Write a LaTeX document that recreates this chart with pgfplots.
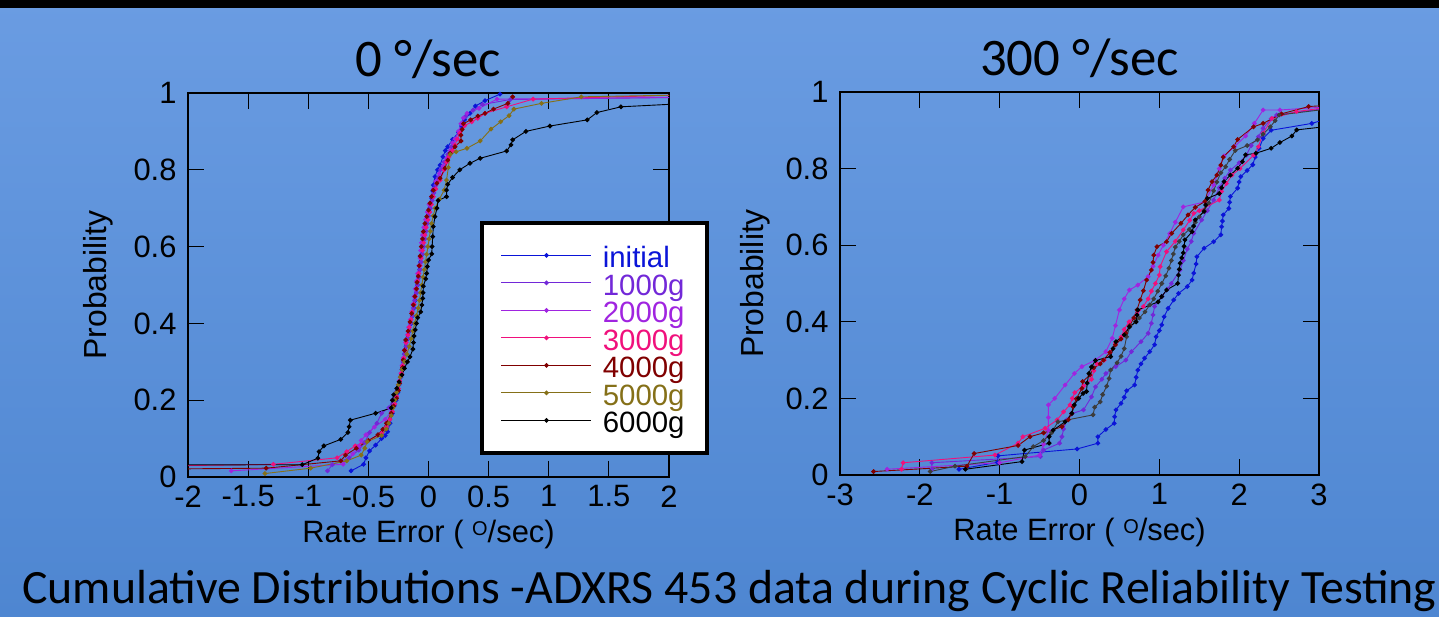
\documentclass[border=0pt]{standalone}
\usepackage{pgfplots}
\pgfplotsset{compat=1.18}
\usepackage{fontspec}
\setmainfont{Liberation Sans}
\newfontfamily\carlito{Carlito}
\definecolor{bgTop}{HTML}{6A9CE2}
\definecolor{bgBot}{HTML}{4E86D1}
\definecolor{cInit}{HTML}{0A14D8}
\definecolor{cKa}{HTML}{7228D8}
\definecolor{cKb}{HTML}{A024E0}
\definecolor{cKc}{HTML}{F0107C}
\definecolor{cKd}{HTML}{800000}
\definecolor{cKe}{HTML}{857018}
\definecolor{cKeg}{HTML}{3C3C3C}
\definecolor{cKf}{HTML}{000000}
\newcommand{\degsup}{\raisebox{7bp}{\fontsize{20}{20}\selectfont O}}
\pgfplotsset{
  cdfaxis/.style={
    scale only axis, anchor=south west,
    axis line style={black, line width=1.2bp},
    tick style={black, line width=1bp},
    major tick length=16bp,
    tick align=inside,
    ymin=0, ymax=1, ytick={0,0.2,0.4,0.6,0.8,1},
    ticklabel style={font=\fontsize{31}{31}\selectfont},
    xticklabel style={yshift=-5bp},
    yticklabel style={xshift=-8bp},
    /pgf/number format/assume math mode=true,
    xlabel style={font=\fontsize{31}{31}\selectfont},
    ylabel style={font=\fontsize{32}{32}\selectfont},
    every axis title/.style={at={(0.5,1.042)}, anchor=base, font=\carlito\fontsize{53}{53}\selectfont},
    clip=true,
    legend image code/.code={\draw[mark repeat=2,mark phase=2,##1] plot coordinates {(0bp,0bp) (45bp,0bp) (90bp,0bp)};},
  },
  ser/.style={line width=0.9bp, mark=*, mark size=1.9bp, color=#1},
}
\begin{document}
\begin{tikzpicture}[x=1bp,y=1bp]
\useasboundingbox (0,0) rectangle (1439,617);
\shade[top color=bgTop, bottom color=bgBot] (0,0) rectangle (1439,617);
\fill[black] (0,609) rectangle (1439,617);

\begin{axis}[cdfaxis, at={(188bp,140bp)}, width=481bp, height=384bp,
  xmin=-2, xmax=2, xtick={-2,-1.5,-1,-0.5,0,0.5,1,1.5,2},
  title={0 °/sec},
  xlabel={Rate Error ( \degsup/sec)},
  ylabel={Probability},
  xlabel style={at={(axis description cs:0.5,-0.151)}, anchor=center},
  ylabel style={at={(axis description cs:-0.187,0.5)}, anchor=center},
  legend cell align=left,
  legend style={at={(0.607,0.667)}, anchor=north west, draw=black, line width=4bp, fill=white,
    font=\fontsize{29.5}{29.5}\selectfont, inner xsep=19bp, inner ysep=15bp, row sep=-7.5bp, column sep=8bp,
    nodes={inner sep=3bp, text height=27bp, text depth=2bp}},
]
\addplot[ser=cInit] coordinates {(-0.644,0.016)(-0.54,0.033)(-0.52,0.05)(-0.49,0.068)(-0.44,0.083)(-0.39,0.10)(-0.36,0.108)(-0.34,0.118)(-0.32,0.14)(-0.30,0.166)(-0.285,0.185)(-0.27,0.2)(-0.255,0.22)(-0.245,0.24)(-0.23,0.26)(-0.22,0.28)(-0.21,0.30)(-0.2,0.32)(-0.185,0.34)(-0.17,0.36)(-0.158,0.38)(-0.145,0.40)(-0.133,0.42)(-0.12,0.44)(-0.11,0.46)(-0.1,0.48)(-0.09,0.50)(-0.08,0.52)(-0.072,0.54)(-0.065,0.56)(-0.055,0.58)(-0.045,0.60)(-0.035,0.62)(-0.025,0.64)(-0.015,0.66)(-0.005,0.68)(0.01,0.70)(0.027,0.726)(0.035,0.745)(0.04,0.76)(0.054,0.782)(0.075,0.80)(0.096,0.812)(0.12,0.834)(0.14,0.85)(0.16,0.86)(0.2,0.879)(0.25,0.897)(0.276,0.914)(0.30,0.93)(0.345,0.947)(0.39,0.966)(0.47,0.98)(0.595,0.997)};
\addlegendentry{\textcolor{cInit}{initial}}
\addplot[ser=cKa] coordinates {(-0.84,0.016)(-0.80,0.032)(-0.66,0.05)(-0.58,0.07)(-0.53,0.09)(-0.49,0.116)(-0.43,0.14)(-0.39,0.166)(-0.33,0.18)(-0.30,0.2)(-0.27,0.22)(-0.25,0.24)(-0.235,0.26)(-0.22,0.28)(-0.21,0.30)(-0.2,0.32)(-0.185,0.34)(-0.175,0.36)(-0.16,0.38)(-0.15,0.40)(-0.135,0.42)(-0.125,0.44)(-0.115,0.46)(-0.1,0.48)(-0.09,0.5)(-0.08,0.52)(-0.07,0.54)(-0.06,0.56)(-0.05,0.58)(-0.04,0.6)(-0.03,0.62)(-0.02,0.64)(-0.01,0.66)(0.0,0.68)(0.015,0.70)(0.03,0.72)(0.045,0.74)(0.06,0.76)(0.08,0.78)(0.1,0.8)(0.13,0.82)(0.16,0.84)(0.19,0.86)(0.22,0.88)(0.25,0.90)(0.28,0.92)(0.31,0.94)(0.37,0.955)(0.45,0.97)(0.68,0.983)(2.5,0.99)};
\addlegendentry{\textcolor{cKa}{1000g}}
\addplot[ser=cKb] coordinates {(-1.64,0.016)(-0.71,0.033)(-0.63,0.06)(-0.58,0.08)(-0.56,0.095)(-0.52,0.11)(-0.45,0.13)(-0.36,0.15)(-0.31,0.17)(-0.29,0.19)(-0.275,0.21)(-0.26,0.23)(-0.245,0.25)(-0.23,0.27)(-0.22,0.29)(-0.21,0.31)(-0.2,0.33)(-0.19,0.35)(-0.175,0.37)(-0.165,0.39)(-0.15,0.41)(-0.14,0.43)(-0.13,0.45)(-0.12,0.47)(-0.11,0.49)(-0.1,0.51)(-0.09,0.53)(-0.08,0.55)(-0.07,0.57)(-0.065,0.59)(-0.06,0.61)(-0.05,0.63)(-0.04,0.65)(-0.025,0.67)(-0.01,0.69)(0.005,0.71)(0.025,0.73)(0.04,0.75)(0.06,0.77)(0.09,0.79)(0.12,0.81)(0.15,0.83)(0.18,0.85)(0.2,0.87)(0.22,0.88)(0.25,0.90)(0.27,0.92)(0.29,0.935)(0.32,0.947)(0.42,0.96)(0.57,0.984)(2.5,0.99)};
\addlegendentry{\textcolor{cKb}{2000g}}
\addplot[ser=cKc] coordinates {(-5,0.016)(-1.29,0.033)(-0.76,0.05)(-0.68,0.066)(-0.61,0.081)(-0.5,0.095)(-0.39,0.114)(-0.35,0.13)(-0.32,0.15)(-0.3,0.17)(-0.28,0.19)(-0.265,0.21)(-0.25,0.23)(-0.24,0.25)(-0.225,0.27)(-0.215,0.29)(-0.205,0.31)(-0.195,0.33)(-0.185,0.35)(-0.17,0.37)(-0.16,0.39)(-0.145,0.41)(-0.135,0.43)(-0.12,0.45)(-0.11,0.47)(-0.1,0.49)(-0.09,0.51)(-0.08,0.53)(-0.07,0.55)(-0.06,0.57)(-0.05,0.59)(-0.04,0.61)(-0.03,0.63)(-0.02,0.65)(-0.005,0.67)(0.01,0.69)(0.025,0.71)(0.04,0.73)(0.06,0.75)(0.096,0.773)(0.13,0.80)(0.15,0.82)(0.17,0.834)(0.2,0.85)(0.22,0.865)(0.24,0.88)(0.26,0.895)(0.3,0.915)(0.36,0.925)(0.41,0.934)(0.47,0.947)(0.65,0.964)(0.87,0.984)(2.5,0.998)};
\addlegendentry{\textcolor{cKc}{3000g}}
\addplot[ser=cKd] coordinates {(-4,0.016)(-1.35,0.023)(-0.73,0.042)(-0.69,0.057)(-0.60,0.075)(-0.5,0.095)(-0.42,0.11)(-0.38,0.124)(-0.35,0.14)(-0.31,0.166)(-0.29,0.185)(-0.265,0.205)(-0.25,0.225)(-0.24,0.244)(-0.225,0.265)(-0.215,0.285)(-0.21,0.305)(-0.2,0.33)(-0.19,0.357)(-0.17,0.38)(-0.154,0.404)(-0.14,0.426)(-0.126,0.448)(-0.113,0.47)(-0.1,0.49)(-0.095,0.507)(-0.085,0.523)(-0.078,0.55)(-0.07,0.575)(-0.06,0.6)(-0.05,0.62)(-0.043,0.639)(-0.03,0.66)(-0.015,0.678)(0.0,0.695)(0.012,0.713)(0.025,0.73)(0.04,0.747)(0.07,0.765)(0.096,0.778)(0.137,0.804)(0.16,0.825)(0.18,0.843)(0.22,0.86)(0.27,0.875)(0.27,0.89)(0.28,0.905)(0.29,0.92)(0.35,0.93)(0.41,0.94)(0.47,0.947)(0.54,0.958)(0.66,0.973)(0.70,0.99)};
\addlegendentry{\textcolor{cKd}{4000g}}
\addplot[ser=cKe] coordinates {(-1.36,0.009)(-0.98,0.023)(-0.68,0.042)(-0.56,0.057)(-0.53,0.075)(-0.51,0.092)(-0.39,0.108)(-0.35,0.125)(-0.33,0.14)(-0.31,0.16)(-0.295,0.18)(-0.28,0.2)(-0.265,0.22)(-0.25,0.24)(-0.235,0.26)(-0.22,0.28)(-0.2,0.30)(-0.18,0.32)(-0.16,0.34)(-0.145,0.36)(-0.13,0.38)(-0.115,0.40)(-0.1,0.42)(-0.085,0.44)(-0.075,0.46)(-0.065,0.48)(-0.055,0.50)(-0.045,0.52)(-0.035,0.54)(-0.025,0.56)(-0.015,0.58)(-0.005,0.60)(0.005,0.62)(0.015,0.64)(0.025,0.66)(0.04,0.68)(0.055,0.70)(0.09,0.723)(0.13,0.747)(0.15,0.773)(0.165,0.806)(0.18,0.84)(0.23,0.847)(0.32,0.856)(0.43,0.875)(0.52,0.906)(0.60,0.925)(0.67,0.941)(0.71,0.958)(0.94,0.973)(1.27,0.99)(2.5,0.997)};
\addlegendentry{\textcolor{cKe}{5000g}}
\addplot[ser=cKf] coordinates {(-5,0.03)(-1.05,0.032)(-0.92,0.049)(-0.91,0.066)(-0.87,0.081)(-0.73,0.098)(-0.67,0.116)(-0.66,0.131)(-0.65,0.148)(-0.44,0.166)(-0.31,0.18)(-0.30,0.20)(-0.29,0.214)(-0.264,0.231)(-0.245,0.248)(-0.22,0.266)(-0.20,0.283)(-0.175,0.30)(-0.154,0.313)(-0.13,0.333)(-0.125,0.35)(-0.12,0.367)(-0.11,0.383)(-0.10,0.40)(-0.09,0.415)(-0.065,0.43)(-0.055,0.448)(-0.048,0.465)(-0.045,0.48)(-0.043,0.497)(-0.023,0.516)(-0.015,0.53)(-0.01,0.548)(0.0,0.565)(0.027,0.581)(0.03,0.60)(0.035,0.626)(0.04,0.652)(0.054,0.678)(0.07,0.70)(0.08,0.72)(0.15,0.73)(0.15,0.747)(0.16,0.762)(0.20,0.78)(0.26,0.80)(0.345,0.817)(0.43,0.83)(0.65,0.849)(0.686,0.865)(0.70,0.878)(0.81,0.90)(1.01,0.914)(1.32,0.93)(1.40,0.949)(1.60,0.964)(2.6,0.98)};
\addlegendentry{\textcolor{cKf}{6000g}}
\end{axis}

\begin{axis}[cdfaxis, at={(840bp,142bp)}, width=479bp, height=383bp,
  xmin=-3, xmax=3, xtick={-3,-2,-1,0,1,2,3},
  title={300 °/sec},
  xlabel={Rate Error ( \degsup/sec)},
  ylabel={Probability},
  xlabel style={at={(axis description cs:0.5,-0.151)}, anchor=center},
  ylabel style={at={(axis description cs:-0.177,0.5)}, anchor=center},
]
\addplot[ser=cInit] coordinates {(-1.51,0.015)(-1.03,0.033)(-1.02,0.05)(-0.03,0.068)(0.23,0.083)(0.23,0.10)(0.33,0.119)(0.435,0.135)(0.44,0.152)(0.456,0.17)(0.52,0.187)(0.56,0.203)(0.59,0.22)(0.69,0.235)(0.71,0.255)(0.73,0.274)(0.77,0.29)(0.815,0.305)(0.88,0.322)(0.94,0.34)(0.96,0.361)(1.0,0.377)(1.03,0.392)(1.06,0.413)(1.11,0.435)(1.18,0.457)(1.24,0.474)(1.35,0.492)(1.41,0.509)(1.43,0.527)(1.46,0.551)(1.47,0.57)(1.56,0.592)(1.68,0.609)(1.77,0.627)(1.78,0.648)(1.79,0.663)(1.80,0.679)(1.87,0.696)(1.88,0.712)(1.89,0.727)(1.98,0.749)(2.0,0.765)(2.02,0.779)(2.1,0.795)(2.17,0.81)(2.2,0.83)(2.25,0.853)(2.30,0.879)(2.40,0.90)(2.91,0.918)(3.1,0.93)};
\addplot[ser=cKa] coordinates {(-1.85,0.015)(-1.85,0.032)(-0.49,0.048)(-0.45,0.065)(-0.25,0.083)(-0.22,0.10)(-0.20,0.12)(-0.16,0.144)(-0.1,0.16)(0.05,0.17)(0.15,0.204)(0.2,0.23)(0.28,0.25)(0.33,0.265)(0.455,0.283)(0.58,0.30)(0.65,0.322)(0.77,0.348)(0.86,0.37)(0.90,0.396)(0.92,0.418)(0.94,0.44)(1.03,0.466)(1.1,0.485)(1.15,0.50)(1.26,0.535)(1.3,0.56)(1.35,0.59)(1.4,0.61)(1.43,0.631)(1.53,0.666)(1.6,0.69)(1.68,0.718)(1.75,0.75)(1.82,0.775)(1.89,0.796)(2.0,0.815)(2.09,0.835)(2.15,0.86)(2.24,0.883)(2.30,0.905)(2.4,0.93)(2.47,0.94)(3.01,0.955)};
\addplot[ser=cKb] coordinates {(-2.41,0.015)(-1.0,0.032)(-0.50,0.052)(-0.45,0.08)(-0.39,0.117)(-0.39,0.15)(-0.39,0.183)(-0.31,0.20)(-0.18,0.235)(-0.065,0.265)(0.03,0.283)(0.2,0.30)(0.33,0.322)(0.41,0.357)(0.45,0.39)(0.50,0.431)(0.56,0.46)(0.625,0.483)(0.73,0.496)(0.86,0.518)(0.92,0.545)(0.985,0.574)(1.05,0.60)(1.13,0.63)(1.2,0.66)(1.30,0.70)(1.57,0.713)(1.68,0.757)(1.75,0.8)(1.81,0.833)(1.94,0.857)(2.08,0.885)(2.19,0.918)(2.30,0.953)(2.51,0.953)(3.01,0.96)};
\addplot[ser=cKc] coordinates {(-2.23,0.015)(-2.21,0.032)(-1.06,0.052)(-0.77,0.083)(-0.71,0.10)(-0.43,0.122)(-0.28,0.144)(-0.2,0.165)(-0.12,0.183)(-0.09,0.2)(-0.06,0.215)(0.05,0.232)(0.15,0.25)(0.18,0.272)(0.22,0.29)(0.31,0.30)(0.38,0.32)(0.45,0.345)(0.52,0.36)(0.56,0.38)(0.62,0.40)(0.72,0.42)(0.80,0.44)(0.86,0.46)(0.9,0.48)(0.95,0.50)(1.0,0.522)(1.01,0.544)(1.09,0.583)(1.2,0.61)(1.3,0.64)(1.38,0.665)(1.43,0.683)(1.50,0.69)(1.75,0.718)(1.78,0.74)(1.84,0.761)(1.91,0.783)(2.01,0.80)(2.18,0.835)(2.24,0.857)(2.30,0.892)(2.41,0.931)(2.72,0.949)(3.01,0.957)};
\addplot[ser=cKd] coordinates {(-2.58,0.009)(-1.41,0.023)(-1.32,0.056)(-0.77,0.077)(-0.62,0.10)(-0.45,0.11)(-0.22,0.126)(-0.14,0.144)(-0.10,0.16)(-0.08,0.178)(-0.04,0.199)(0.03,0.226)(0.04,0.244)(0.13,0.261)(0.18,0.28)(0.26,0.29)(0.30,0.30)(0.38,0.32)(0.45,0.34)(0.52,0.355)(0.58,0.37)(0.63,0.39)(0.68,0.41)(0.72,0.431)(0.76,0.457)(0.80,0.481)(0.84,0.509)(0.90,0.535)(0.92,0.555)(0.93,0.574)(0.97,0.596)(1.09,0.609)(1.155,0.631)(1.27,0.657)(1.36,0.679)(1.45,0.699)(1.57,0.714)(1.61,0.744)(1.66,0.766)(1.72,0.783)(1.77,0.809)(1.80,0.83)(1.93,0.857)(1.98,0.876)(2.18,0.909)(2.30,0.918)(2.53,0.943)(2.87,0.962)(3.1,0.965)};
\addplot[ser=cKeg] coordinates {(-1.87,0.009)(-1.56,0.023)(-0.68,0.048)(-0.58,0.074)(-0.45,0.09)(-0.35,0.11)(-0.27,0.139)(0.17,0.157)(0.19,0.177)(0.26,0.191)(0.29,0.21)(0.34,0.232)(0.37,0.252)(0.39,0.274)(0.47,0.293)(0.52,0.31)(0.56,0.33)(0.59,0.361)(0.63,0.387)(0.7,0.40)(0.75,0.41)(0.82,0.426)(0.88,0.444)(0.93,0.46)(0.98,0.48)(1.03,0.50)(1.08,0.52)(1.12,0.54)(1.15,0.56)(1.175,0.577)(1.2,0.595)(1.25,0.61)(1.30,0.627)(1.375,0.641)(1.45,0.66)(1.50,0.674)(1.56,0.69)(1.62,0.71)(1.68,0.742)(1.72,0.765)(1.77,0.789)(1.83,0.805)(1.88,0.824)(1.95,0.847)(2.1,0.86)(2.23,0.875)(2.3,0.89)(2.39,0.909)(2.45,0.925)(2.50,0.94)(3.01,0.953)};
\addplot[ser=cKf] coordinates {(-1.43,0.015)(-0.72,0.035)(-0.69,0.065)(-0.38,0.083)(-0.38,0.10)(-0.33,0.117)(-0.18,0.139)(-0.095,0.161)(-0.065,0.183)(-0.01,0.20)(0.045,0.213)(0.087,0.218)(0.096,0.24)(0.117,0.265)(0.15,0.282)(0.20,0.299)(0.39,0.309)(0.42,0.33)(0.456,0.348)(0.56,0.366)(0.625,0.387)(0.71,0.40)(0.72,0.418)(0.73,0.431)(0.985,0.452)(1.03,0.466)(1.09,0.483)(1.23,0.50)(1.24,0.522)(1.25,0.537)(1.26,0.553)(1.28,0.567)(1.30,0.58)(1.31,0.597)(1.32,0.614)(1.41,0.635)(1.43,0.65)(1.45,0.666)(1.56,0.688)(1.58,0.705)(1.60,0.722)(1.75,0.735)(1.78,0.75)(1.81,0.766)(1.89,0.783)(1.98,0.801)(2.04,0.818)(2.08,0.836)(2.21,0.84)(2.40,0.853)(2.51,0.868)(2.66,0.885)(2.72,0.901)(3.1,0.91)};
\end{axis}

\node[anchor=base west, font=\carlito\fontsize{48}{48}\selectfont, inner sep=0pt] at (22bp,13bp) {Cumulative Distributions -ADXRS 453 data during Cyclic Reliability Testing};
\end{tikzpicture}
\end{document}
